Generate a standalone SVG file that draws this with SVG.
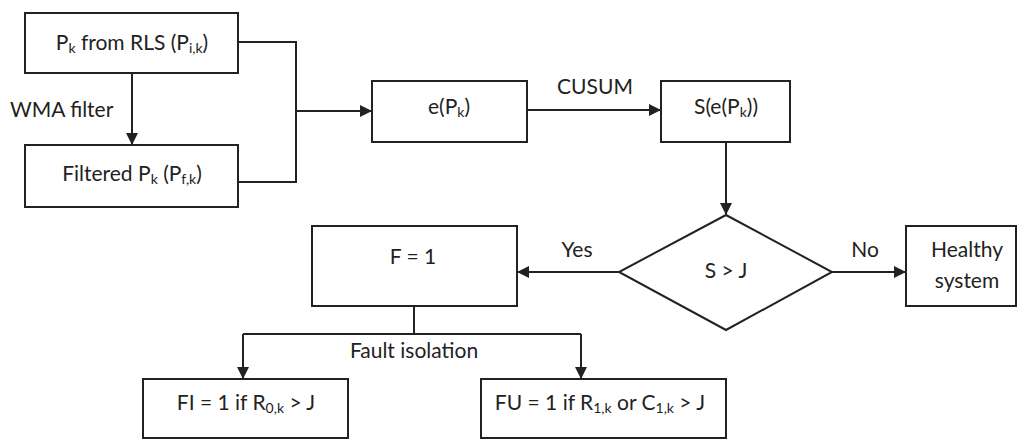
<svg xmlns="http://www.w3.org/2000/svg" width="1017" height="440" viewBox="0 0 1017 440">
<style>
.n{fill:#fff;stroke:#222;stroke-width:2}
.c{fill:none;stroke:#222;stroke-width:2}
text{font-family:Lato,"Open Sans",sans-serif;font-size:21px;fill:#222}
.m{text-anchor:middle}
.s{font-size:14px}
</style>
<defs>
<marker id="a" markerUnits="userSpaceOnUse" markerWidth="12" markerHeight="12" refX="11" refY="6" orient="auto">
<path d="M0,0 L12,6 L0,12 Z" fill="#222"/>
</marker>
</defs>
<rect x="0" y="0" width="1017" height="440" fill="#fff"/>
<g id="connectors">
<path class="c" d="M132,73 V144" marker-end="url(#a)"/>
<path class="c" d="M238,42 H296 V182 H238"/>
<path class="c" d="M296,111 H371" marker-end="url(#a)"/>
<path class="c" d="M527,110 H660" marker-end="url(#a)"/>
<path class="c" d="M726,142 V214" marker-end="url(#a)"/>
<path class="c" d="M619,272 H518" marker-end="url(#a)"/>
<path class="c" d="M832,272 H905" marker-end="url(#a)"/>
<path class="c" d="M414,306 V334"/>
<path class="c" d="M243,334 H581"/>
<path class="c" d="M243,334 V378" marker-end="url(#a)"/>
<path class="c" d="M581,334 V378" marker-end="url(#a)"/>
<text x="10" y="117">WMA filter</text>
<text class="m" x="595" y="94">CUSUM</text>
<text class="m" x="577" y="257">Yes</text>
<text class="m" x="865" y="257">No</text>
<text class="m" x="414" y="358">Fault isolation</text>
</g>
<g id="rls">
<rect class="n" x="25" y="13" width="213" height="60"/>
<text class="m" x="132" y="50">P<tspan class="s" dy="3">k</tspan><tspan dy="-3"> from RLS (P</tspan><tspan class="s" dy="3">i,k</tspan><tspan dy="-3">)</tspan></text>
</g>
<g id="filtered">
<rect class="n" x="25" y="145" width="213" height="62"/>
<text class="m" x="132" y="181">Filtered P<tspan class="s" dy="3">k</tspan><tspan dy="-3"> (P</tspan><tspan class="s" dy="3">f,k</tspan><tspan dy="-3">)</tspan></text>
</g>
<g id="error">
<rect class="n" x="372" y="81" width="155" height="61"/>
<text class="m" x="449" y="114">e(P<tspan class="s" dy="3">k</tspan><tspan dy="-3">)</tspan></text>
</g>
<g id="cusum">
<rect class="n" x="661" y="81" width="129" height="61"/>
<text class="m" x="726" y="114">S(e(P<tspan class="s" dy="3">k</tspan><tspan dy="-3">))</tspan></text>
</g>
<g id="decision">
<path class="n" d="M726,215 L832,272 L726,330 L619,272 Z"/>
<text class="m" x="726" y="278">S &gt; J</text>
</g>
<g id="fault">
<rect class="n" x="312" y="226" width="205" height="80"/>
<text class="m" x="413" y="264">F = 1</text>
</g>
<g id="healthy">
<rect class="n" x="906" y="226" width="110" height="80"/>
<text class="m" x="967" y="257">Healthy</text>
<text class="m" x="967" y="288">system</text>
</g>
<g id="fi">
<rect class="n" x="143" y="379" width="205" height="59"/>
<text class="m" x="246" y="410">FI = 1 if R<tspan class="s" dy="3">0,k</tspan><tspan dy="-3"> &gt; J</tspan></text>
</g>
<g id="fu">
<rect class="n" x="481" y="379" width="245" height="59"/>
<text class="m" x="600" y="410">FU = 1 if R<tspan class="s" dy="3">1,k</tspan><tspan dy="-3"> or C</tspan><tspan class="s" dy="3">1,k</tspan><tspan dy="-3"> &gt; J</tspan></text>
</g>
</svg>
